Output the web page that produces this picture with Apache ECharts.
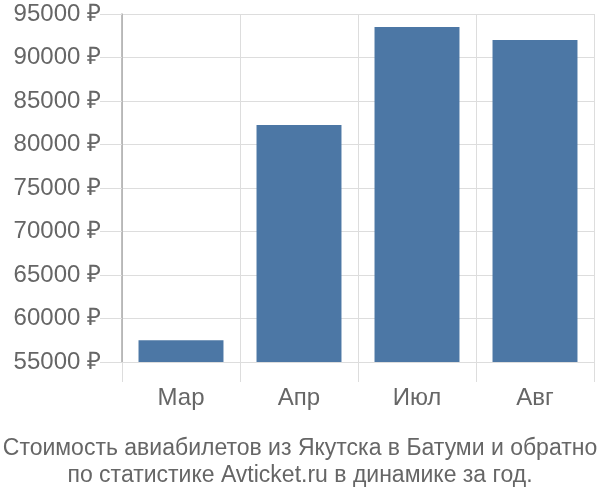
<!DOCTYPE html>
<html lang="ru">
<head>
    <meta charset="UTF-8">
    <title>Avticket</title>
    <script src="https://cdn.jsdelivr.net/npm/echarts@6/dist/echarts.min.js"></script>
    <style>
        html, body { margin: 0; padding: 0; background: #fff; }
    </style>
</head>
<body>
<div id="main" style="width: 600px;height:500px;"></div>
<script>
    var months = ['Мар', 'Апр', 'Июл', 'Авг'];
    var prices = [57500, 82250, 93500, 92000];
    var yMin = 55000;
    var yMax = 95000;
    var yStep = 5000;
    var titleLines = ['Стоимость авиабилетов из Якутска в Батуми и обратно',
        'по статистике Avticket.ru в динамике за год.'];

    var font = 'Liberation Sans, Arial, sans-serif';
    var myChart = echarts.init(document.getElementById('main'));
    var option = {
        animation: false,
        textStyle: { fontFamily: font },
        title: {
            text: titleLines.join('\n'),
            left: 'center',
            top: 430,
            textStyle: {
                color: '#666',
                fontSize: 23,
                fontWeight: 'normal',
                lineHeight: 27,
                fontFamily: font
            }
        },
        grid: {
            left: 122,
            right: 6,
            top: 14,
            bottom: 138
        },
        xAxis: {
            type: 'category',
            data: months,
            axisLine: { show: false },
            axisTick: {
                show: true,
                length: 20,
                lineStyle: { color: '#ddd' }
            },
            splitLine: {
                show: true,
                lineStyle: { color: '#ddd' }
            },
            axisLabel: {
                color: '#666',
                fontSize: 24,
                margin: 24
            }
        },
        yAxis: {
            type: 'value',
            min: yMin,
            max: yMax,
            interval: yStep,
            axisLine: {
                show: true,
                lineStyle: { color: '#aaa', width: 1.5 }
            },
            axisTick: {
                show: true,
                length: 22,
                lineStyle: { color: '#ddd' }
            },
            splitLine: {
                lineStyle: { color: '#ddd' }
            },
            axisLabel: {
                color: '#666',
                fontSize: 24,
                margin: 21,
                formatter: function (v) { return v + ' ₽'; }
            }
        },
        series: [
            {
                name: 'Стоимость',
                type: 'bar',
                data: prices,
                barCategoryGap: '28%',
                itemStyle: { color: '#4c77a5' }
            }
        ]
    };
    myChart.setOption(option);
</script>
</body>
</html>
